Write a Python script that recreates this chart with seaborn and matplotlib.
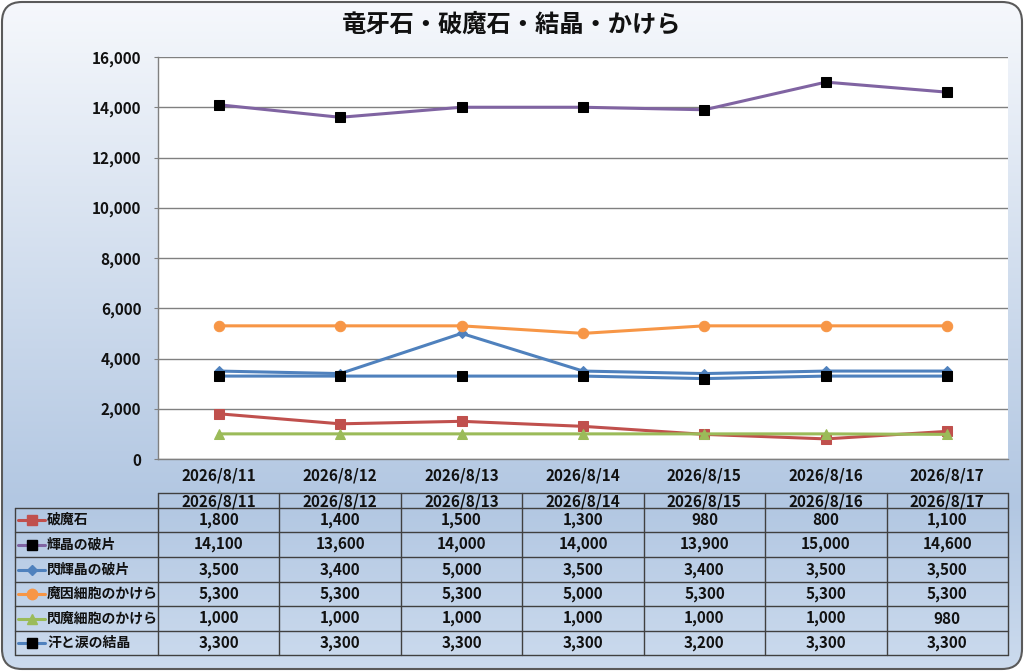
import numpy as np
import pandas as pd
import seaborn as sns
import matplotlib.pyplot as plt
from matplotlib.colors import LinearSegmentedColormap
from matplotlib.patches import FancyBboxPatch
from matplotlib.lines import Line2D

# data
dates = ['2026/8/11', '2026/8/12', '2026/8/13', '2026/8/14', '2026/8/15', '2026/8/16', '2026/8/17']
hamaseki = [1800, 1400, 1500, 1300, 980, 800, 1100]
kishou = [14100, 13600, 14000, 14000, 13900, 15000, 14600]
senkishou = [3500, 3400, 5000, 3500, 3400, 3500, 3500]
main_kakera = [5300, 5300, 5300, 5000, 5300, 5300, 5300]
senma_kakera = [1000, 1000, 1000, 1000, 1000, 1000, 980]
ase_namida = [3300, 3300, 3300, 3300, 3200, 3300, 3300]

series_names = ['破魔石', '輝晶の破片', '閃輝晶の破片', '魔因細胞のかけら', '閃魔細胞のかけら', '汗と涙の結晶']
series_values = [hamaseki, kishou, senkishou, main_kakera, senma_kakera, ase_namida]

# style per series: line colour, marker, marker colour, marker size
styles = [
    ('#C0504D', 's', '#C0504D', 7),
    ('#8064A2', 's', '#000000', 7),
    ('#4F81BD', 'D', '#4F81BD', 5),
    ('#F79646', 'o', '#F79646', 7.5),
    ('#9BBB59', '^', '#9BBB59', 7.5),
    ('#4F81BD', 's', '#000000', 7),
]

sns.set_style('white')
plt.rcParams['font.family'] = ['Noto Sans CJK JP', 'DejaVu Sans']
txt_color = '#111111'

fig = plt.figure(figsize=(10.24, 6.71), dpi=100)
fig.patch.set_facecolor('white')

# background with gradient and rounded border
bg = fig.add_axes([0, 0, 1, 1], zorder=0)
bg.set_xlim(0, 1024)
bg.set_ylim(0, 671)
bg.axis('off')
cmap = LinearSegmentedColormap.from_list('fog', [(0, '#F6F8FC'), (0.2, '#E4EBF5'),
                                                 (0.75, '#B2C7E2'), (1, '#CCDBEE')])
grad = np.linspace(0, 1, 256).reshape(-1, 1)
img = bg.imshow(grad, cmap=cmap, aspect='auto', extent=[0, 1024, 0, 671], origin='upper')
border = FancyBboxPatch((2, 2), 1020, 667, boxstyle='round,pad=0,rounding_size=20',
                        facecolor='none', edgecolor='#5A5A5A', linewidth=1.5)
bg.add_patch(border)
img.set_clip_path(border)

# chart
ax = fig.add_axes([158 / 1024, 1 - 459 / 671, 850 / 1024, 402 / 671], zorder=2)
ax.set_facecolor('white')
for name, vals, (lc, mk, mfc, ms) in zip(series_names, series_values, styles):
    sns.lineplot(x=dates, y=vals, ax=ax, color=lc, linewidth=2.2, marker=mk,
                 markersize=ms, markerfacecolor=mfc, markeredgecolor=mfc,
                 legend=False, sort=False)

ax.set_ylim(0, 16000)
ax.set_xlim(-0.5, 6.5)
ax.set_yticks(range(0, 16001, 2000))
ax.set_yticklabels([f'{v:,}' for v in range(0, 16001, 2000)])
ax.yaxis.grid(True, color='#808080', linewidth=1)
ax.set_axisbelow(True)
for s in ['top', 'right']:
    ax.spines[s].set_visible(False)
for s in ['left', 'bottom']:
    ax.spines[s].set_color('#808080')
    ax.spines[s].set_linewidth(1)
ax.tick_params(axis='y', length=3, color='#808080', left=True, pad=9, labelsize=11)
ax.tick_params(axis='x', length=0, pad=6, labelsize=11)
ax.set_xlabel('')
ax.set_ylabel('')
for t in ax.get_xticklabels() + ax.get_yticklabels():
    t.set_fontweight('bold')
    t.set_color(txt_color)

fig.text(0.5, 1 - 25 / 671, '竜牙石・破魔石・結晶・かけら', ha='center', va='center',
         fontsize=17.5, fontweight='bold', color=txt_color)

# data table
tb = fig.add_axes([158 / 1024, 1 - 656 / 671, 850 / 1024, 163 / 671], zorder=2)
tb.set_xlim(-0.5, 6.5)
tb.set_ylim(656, 493)
tb.axis('off')
rows = [493, 508, 532, 557, 582, 606, 631, 655]
px = 850 / 7
left_x = (15 - 158) / px - 0.5
lc_grid = '#404040'
tb.plot([-0.5, 6.5], [rows[0], rows[0]], color=lc_grid, lw=1, clip_on=False)
for r in rows[1:]:
    tb.plot([left_x, 6.5], [r, r], color=lc_grid, lw=1, clip_on=False)
for c in np.arange(-0.5, 7, 1):
    tb.plot([c, c], [rows[0], rows[-1]], color=lc_grid, lw=1, clip_on=False)
tb.plot([left_x, left_x], [rows[1], rows[-1]], color=lc_grid, lw=1, clip_on=False)

for i, d in enumerate(dates):
    tb.text(i, (rows[0] + rows[1]) / 2 + 1, d, ha='center', va='center', fontsize=11,
            fontweight='bold', color=txt_color)

for j, (name, vals, (lc, mk, mfc, ms)) in enumerate(zip(series_names, series_values, styles)):
    yc = (rows[j + 1] + rows[j + 2]) / 2
    x0 = (18 - 158) / px - 0.5
    x1 = (45 - 158) / px - 0.5
    tb.add_line(Line2D([x0, x1], [yc, yc], color=lc, lw=2.2, clip_on=False))
    tb.add_line(Line2D([(x0 + x1) / 2], [yc], marker=mk, markersize=ms, color=mfc,
                       markeredgecolor=mfc, clip_on=False))
    tb.text((47 - 158) / px - 0.5, yc, name, ha='left', va='center', fontsize=10,
            fontweight='bold', color=txt_color)
    for i, v in enumerate(vals):
        tb.text(i, yc, f'{v:,}', ha='center', va='center', fontsize=11,
                fontweight='bold', color=txt_color)

fig.savefig('out.png', dpi=100)
